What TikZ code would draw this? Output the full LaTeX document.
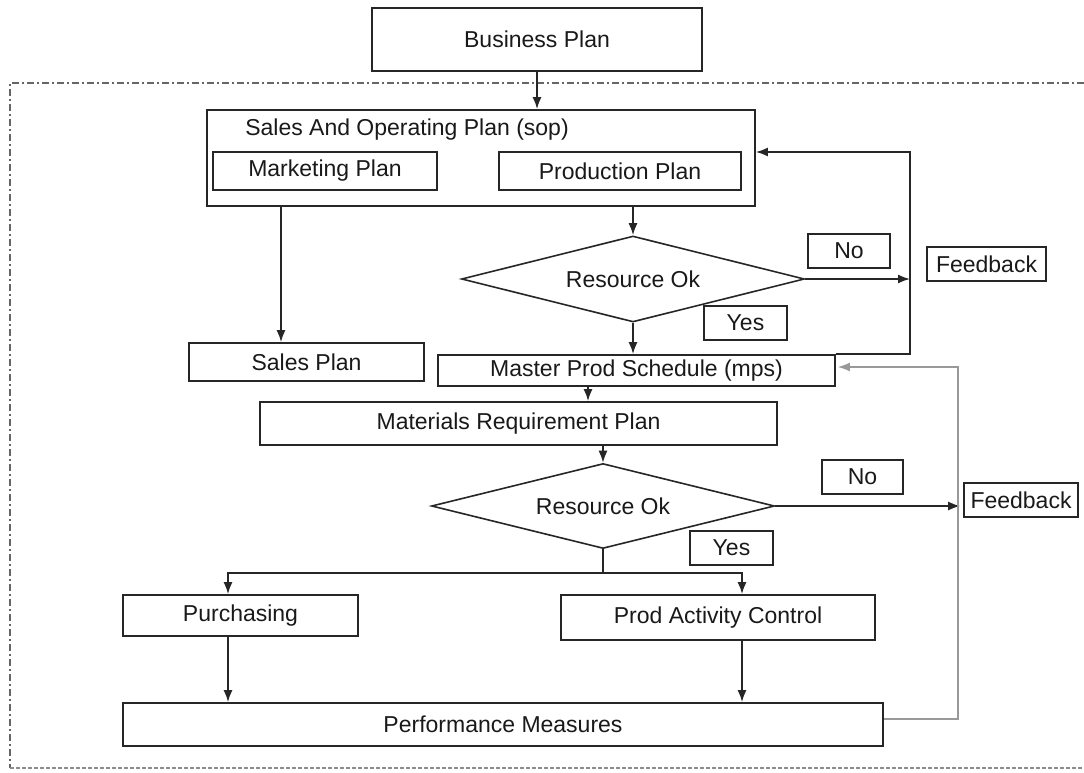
\documentclass[tikz,border=0pt]{standalone}
\usepackage{fontspec}
\setmainfont{Liberation Sans}
\usetikzlibrary{shapes.geometric,arrows.meta}
\begin{document}
\begin{tikzpicture}[x=1pt,y=-1pt,
  font=\fontsize{23}{27}\selectfont,
  box/.style={draw=black!85, line width=1.8pt, inner sep=0pt, text=black!90},
  plain/.style={inner sep=0pt, text=black!90},
  dec/.style={draw=black!85, line width=1.6pt, shape=diamond, inner sep=0pt,
              shape aspect=4, text=black!90},
  link/.style={draw=black!85, line width=1.6pt},
  arr/.style={link, -{Latex[length=12pt,width=9pt]}},
  fbarr/.style={draw=black!40, line width=1.3pt, -{Latex[length=12pt,width=9pt]}},
  frame/.style={draw=black!60, line width=1.5pt,
                dash pattern=on 7pt off 3pt on 2pt off 3pt},
  framebot/.style={draw=black!45, line width=1.3pt, dash pattern=on 4pt off 2pt}
]
\useasboundingbox (0,0) rectangle (1084,773);

% planning area frame
\draw[frame] (1084,83) -- (10,83) -- (10,768);
\draw[framebot] (10,768) -- (1084,768);

% boxes
\node[box, minimum width=330pt, minimum height=63pt] (bp) at (537,39.5) {Business Plan};
\node[box, minimum width=548pt, minimum height=96pt] (sop) at (481,158) {};
\node[plain] (sopt) at (407,130) {Sales And Operating Plan (sop)};
\node[box, minimum width=224pt, minimum height=38pt] (mkt) at (325,171) {Marketing Plan};
\node[box, minimum width=242pt, minimum height=38pt] (prod) at (620,171) {Production Plan};
\node[box, minimum width=235pt, minimum height=38pt] (sales) at (306.5,362) {Sales Plan};

\node[dec, minimum width=343pt, minimum height=86pt] (d1) at (633,279) {Resource Ok};
\node[box, minimum width=82pt, minimum height=34pt] (no1) at (849,251) {No};
\node[box, minimum width=119pt, minimum height=34pt] (fb1) at (986.5,264) {Feedback};
\node[box, minimum width=83pt, minimum height=34pt] (yes1) at (745.5,323) {Yes};

\node[box, minimum width=397pt, minimum height=31pt] (mps) at (636.5,370.5) {Master Prod Schedule (mps)};
\node[box, minimum width=517pt, minimum height=43pt] (mrp) at (518.5,423.5) {Materials Requirement Plan};

\node[dec, minimum width=343pt, minimum height=85pt] (d2) at (603,506) {Resource Ok};
\node[box, minimum width=81pt, minimum height=34pt] (no2) at (862.5,477) {No};
\node[box, minimum width=114pt, minimum height=34pt] (fb2) at (1021,500) {Feedback};
\node[box, minimum width=83pt, minimum height=34pt] (yes2) at (731.5,548) {Yes};

\node[box, minimum width=235pt, minimum height=41pt] (pur) at (240.5,615.5) {Purchasing};
\node[box, minimum width=314pt, minimum height=45pt] (pac) at (718,617.5) {Prod Activity Control};
\node[box, minimum width=760pt, minimum height=43pt] (pm) at (503,724.5) {Performance Measures};

% connector guide positions
\coordinate (xsales) at (281,0);
\coordinate (xmrp) at (588,0);
\coordinate (fbtop) at (910,152);
\coordinate (split) at (603,573);
\coordinate (xpur) at (228,0);
\coordinate (xpac) at (742,0);
\coordinate (g1) at (958,719);
\coordinate (g2) at (958,367);

% connectors
\draw[arr] (bp.south) -- (bp.south |- sop.north);
\draw[arr] (sop.south -| xsales) -- (sales.north -| xsales);
\draw[arr] (d1.north |- sop.south) -- (d1.north);
\draw[arr] (d1.south) -- (d1.south |- mps.north);
\draw[arr] (d1.east) -- (d1.east -| fbtop);
\draw[arr] (mps.north east) -- (mps.north east -| fbtop) -- (fbtop) -- (fbtop -| sop.east);
\draw[arr] (mps.south -| xmrp) -- (mrp.north -| xmrp);
\draw[arr] (d2.north |- mrp.south) -- (d2.north);
\draw[arr] (d2.east) -- ([xshift=-3pt]d2.east -| fb2.west);
\draw[link] (d2.south) -- (split);
\draw[arr] (split) -- (split -| xpur) -- (pur.north -| xpur);
\draw[arr] (split) -- (split -| xpac) -- (pac.north -| xpac);
\draw[arr] (pur.south -| xpur) -- (pm.north -| xpur);
\draw[arr] (pac.south -| xpac) -- (pm.north -| xpac);
\draw[fbarr] (pm.east |- g1) -- (g1) -- (g2) -- ([xshift=2pt]g2 -| mps.east);

\end{tikzpicture}
\end{document}
